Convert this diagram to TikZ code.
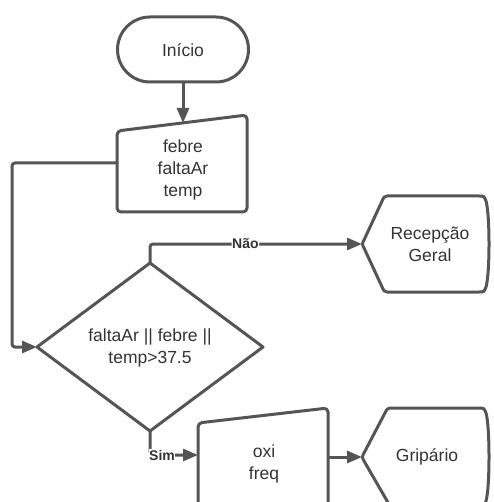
\documentclass[tikz,border=0pt]{standalone}
\usepackage{fontspec}
\setmainfont{Liberation Sans}
\usetikzlibrary{arrows.meta}
\definecolor{lineg}{RGB}{85,85,85}
\definecolor{textg}{RGB}{51,51,51}
\tikzset{
  shapeline/.style={draw=lineg, line width=3pt, fill=white, line join=round},
  conn/.style={draw=lineg, line width=3pt, rounded corners=3pt, -{Triangle[length=15pt,width=12pt]}},
  txt/.style={text=textg, font=\fontsize{17.5}{22}\selectfont, align=center, inner sep=0pt},
  lbl/.style={text=textg, font=\bfseries\fontsize{14}{16}\selectfont, fill=white, inner sep=0.5pt}
}
\begin{document}
\begin{tikzpicture}[x=1pt,y=-1pt]
\useasboundingbox (0,0) rectangle (493,502);
\clip (0,0) rectangle (493,502);
\fill[white] (0,0) rectangle (493,502);

% Inicio terminal
\draw[shapeline] (150,17) -- (216,17) arc[start angle=90,end angle=-90,radius=32.5pt] -- (150,82) arc[start angle=270,end angle=90,radius=32.5pt] -- cycle;
\node[txt] (inicio) at (183,50) {Início};
\coordinate (inicioB) at (183,82);

% manual input febre
\draw[shapeline, rounded corners=4pt] (117,131) -- (247,115) -- (247,212) -- (117,212) -- cycle;
\node[txt] (entrada) at (183,170) {febre\\faltaAr\\temp};
\coordinate (entradaT) at (183,123);
\coordinate (entradaL) at (117,163);

% decision
\draw[shapeline] (37,347) -- (150,263) -- (263,347) -- (150,431) -- cycle;
\node[txt] (decisao) at (150,348) {faltaAr || febre ||\\temp>37.5};
\coordinate (decL) at (37,347);
\coordinate (decT) at (150,263);
\coordinate (decB) at (150,431);

% Recepcao Geral display
\draw[shapeline] (364,240) -- (383,199) .. controls (384,197) .. (387,196) -- (479,196)
  .. controls (484,196) .. (486,201) .. controls (490,215) and (490,273) .. (486,287)
  .. controls (484,292) .. (479,292) -- (387,292) .. controls (384,291) .. (383,289) -- (364,248)
  .. controls (362,244) .. cycle;
\node[txt] (recepcao) at (430,244) {Recepção\\Geral};
\coordinate (recL) at (362,244);

% oxi freq manual input
\draw[shapeline, rounded corners=4pt] (198,423) -- (328,408) -- (328,520) -- (198,520) -- cycle;
\node[txt] (oxi) at (264,464) {oxi\\freq};
\coordinate (oxiL) at (198,455);
\coordinate (oxiR) at (328,457);

% Gripario display
\draw[shapeline] (364,453) -- (386,411) .. controls (387,409) .. (390,408) -- (479,408)
  .. controls (484,408) .. (486,413) .. controls (490,427) and (490,487) .. (486,501)
  .. controls (484,506) .. (479,506) -- (390,506) -- (364,461) .. controls (362,457) .. cycle;
\node[txt] (gripario) at (427,457) {Gripário};
\coordinate (gripL) at (362,457);

% connectors
\draw[conn] (inicioB) -- (entradaT);
\draw[conn] (entradaL) -- (12,163) -- (12,347) -- (decL);
\draw[conn] (decT) -- (150,244) -- (recL) node[lbl, pos=0.45] (nao) {Não};
\draw[conn] (decB) -- (150,455) -- (oxiL);
\node[lbl] (sim) at (162,455) {Sim};
\draw[conn] (oxiR) -- (gripL);
\end{tikzpicture}
\end{document}
